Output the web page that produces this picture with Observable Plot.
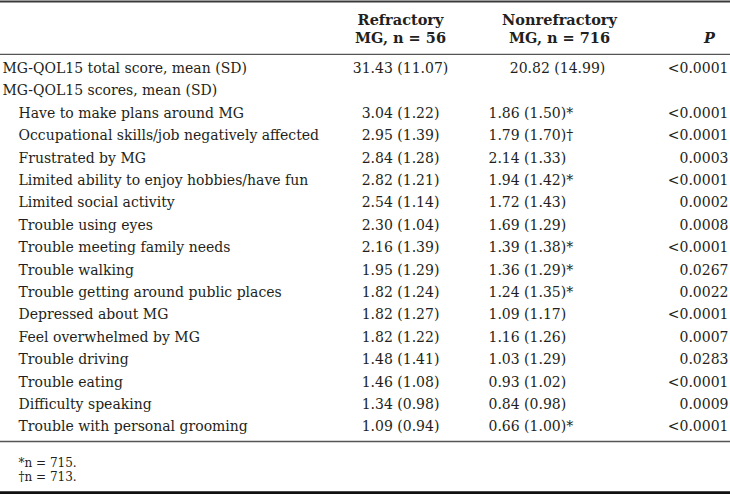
<!DOCTYPE html>
<html><head><meta charset="utf-8">
<script src="https://cdn.jsdelivr.net/npm/d3@7"></script>
<script src="https://cdn.jsdelivr.net/npm/@observablehq/plot@0.6"></script>
<style>html,body{margin:0;padding:0;background:#fff}</style>
</head><body><div id="chart"></div>
<script>
// ---- data ----
const headerLine1 = ["Refractory", "Nonrefractory"];
const headerLine2 = ["MG, n = 56", "MG, n = 716", "P"];
const sectionLabels = ["MG-QOL15 total score, mean (SD)", "MG-QOL15 scores, mean (SD)"];
const totalRef = [31.43, 11.07];
const totalNon = [20.82, 14.99];
const totalP = "<0.0001";
const items = [
  "Have to make plans around MG",
  "Occupational skills/job negatively affected",
  "Frustrated by MG",
  "Limited ability to enjoy hobbies/have fun",
  "Limited social activity",
  "Trouble using eyes",
  "Trouble meeting family needs",
  "Trouble walking",
  "Trouble getting around public places",
  "Depressed about MG",
  "Feel overwhelmed by MG",
  "Trouble driving",
  "Trouble eating",
  "Difficulty speaking",
  "Trouble with personal grooming"
];
const refMean = [3.04, 2.95, 2.84, 2.82, 2.54, 2.30, 2.16, 1.95, 1.82, 1.82, 1.82, 1.48, 1.46, 1.34, 1.09];
const refSD   = [1.22, 1.39, 1.28, 1.21, 1.14, 1.04, 1.39, 1.29, 1.24, 1.27, 1.22, 1.41, 1.08, 0.98, 0.94];
const nonMean = [1.86, 1.79, 2.14, 1.94, 1.72, 1.69, 1.39, 1.36, 1.24, 1.09, 1.16, 1.03, 0.93, 0.84, 0.66];
const nonSD   = [1.50, 1.70, 1.33, 1.42, 1.43, 1.29, 1.38, 1.29, 1.35, 1.17, 1.26, 1.29, 1.02, 0.98, 1.00];
const nonNote = ["*", "†", "", "*", "", "", "*", "*", "*", "", "", "", "", "", "*"];
const pValues = ["<0.0001", "<0.0001", "0.0003", "<0.0001", "0.0002", "0.0008", "<0.0001", "0.0267",
                 "0.0022", "<0.0001", "0.0007", "0.0283", "<0.0001", "0.0009", "<0.0001"];
const footnotes = ["*n = 715.", "†n = 713."];

// ---- layout (row units: one table row = 1) ----
const FONT = "DejaVu Serif";
const FS = 14;
const INK = "#231f20";
const COL = {label: 2, item: 18, ref: 400, nonTotal: 557, nonItem: 488, p: 728, pHead: 709, nonHead: 559};
const ROW = {head1: -2.14, head2: -1.34, foot0: 17.6, step: 0.64};

const fmt = (m, s) => `${m.toFixed(2)} (${s.toFixed(2)})`;
const rows = [
  {r: 0, label: sectionLabels[0], indent: false, ref: fmt(...totalRef), non: fmt(...totalNon), p: totalP, total: true},
  {r: 1, label: sectionLabels[1], indent: false},
  ...items.map((label, i) => ({
    r: i + 2, label, indent: true,
    ref: fmt(refMean[i], refSD[i]),
    non: fmt(nonMean[i], nonSD[i]) + nonNote[i],
    p: pValues[i], total: false
  }))
];
const valueRows = rows.filter(d => d.ref);
const rules = [
  {r: -2.99, w: 2, c: "#3a3a3a"},
  {r: -0.63, w: 1.4, c: "#555"},
  {r: 16.65, w: 1.4, c: "#555"},
  {r: 18.93, w: 2.8, c: "#111"}
];
const headers = [
  {x: COL.ref, r: ROW.head1, t: headerLine1[0]},
  {x: COL.nonHead, r: ROW.head1, t: headerLine1[1]},
  {x: COL.ref, r: ROW.head2, t: headerLine2[0]},
  {x: COL.nonHead, r: ROW.head2, t: headerLine2[1]}
];

const common = {fontFamily: FONT, fontSize: FS, fill: INK, lineAnchor: "middle"};

const chart = Plot.plot({
  width: 730, height: 494, margin: 0,
  x: {domain: [0, 730], range: [0, 730], axis: null},
  y: {domain: [-68 / 22.4, 426 / 22.4], range: [0, 494], axis: null},
  style: {fontFamily: FONT, background: "#fff"},
  marks: [
    Plot.ruleY(rules, {y: "r", stroke: "c", strokeWidth: "w"}),
    Plot.text(headers, {x: "x", y: "r", text: "t", textAnchor: "middle", fontWeight: "bold", ...common, fontSize: 14.5}),
    Plot.text([headerLine2[2]], {x: () => COL.pHead, y: () => ROW.head2, text: d => d, fontWeight: "bold", fontStyle: "italic", textAnchor: "middle", ...common, fontSize: 14.5}),
    Plot.text(rows, {x: d => d.indent ? COL.item : COL.label, y: "r", text: "label", textAnchor: "start", ...common}),
    Plot.text(valueRows, {x: () => COL.ref, y: "r", text: "ref", textAnchor: "middle", ...common}),
    Plot.text(valueRows.filter(d => d.total), {x: () => COL.nonTotal, y: "r", text: "non", textAnchor: "middle", ...common}),
    Plot.text(valueRows.filter(d => !d.total), {x: () => COL.nonItem, y: "r", text: "non", textAnchor: "start", ...common}),
    Plot.text(valueRows, {x: () => COL.p, y: "r", text: "p", textAnchor: "end", ...common}),
    Plot.text(footnotes, {x: () => COL.item, y: (d, i) => ROW.foot0 + i * ROW.step, text: d => d, textAnchor: "start", ...common, fontSize: 12})
  ]
});
document.getElementById("chart").appendChild(chart);
</script>
</body></html>
